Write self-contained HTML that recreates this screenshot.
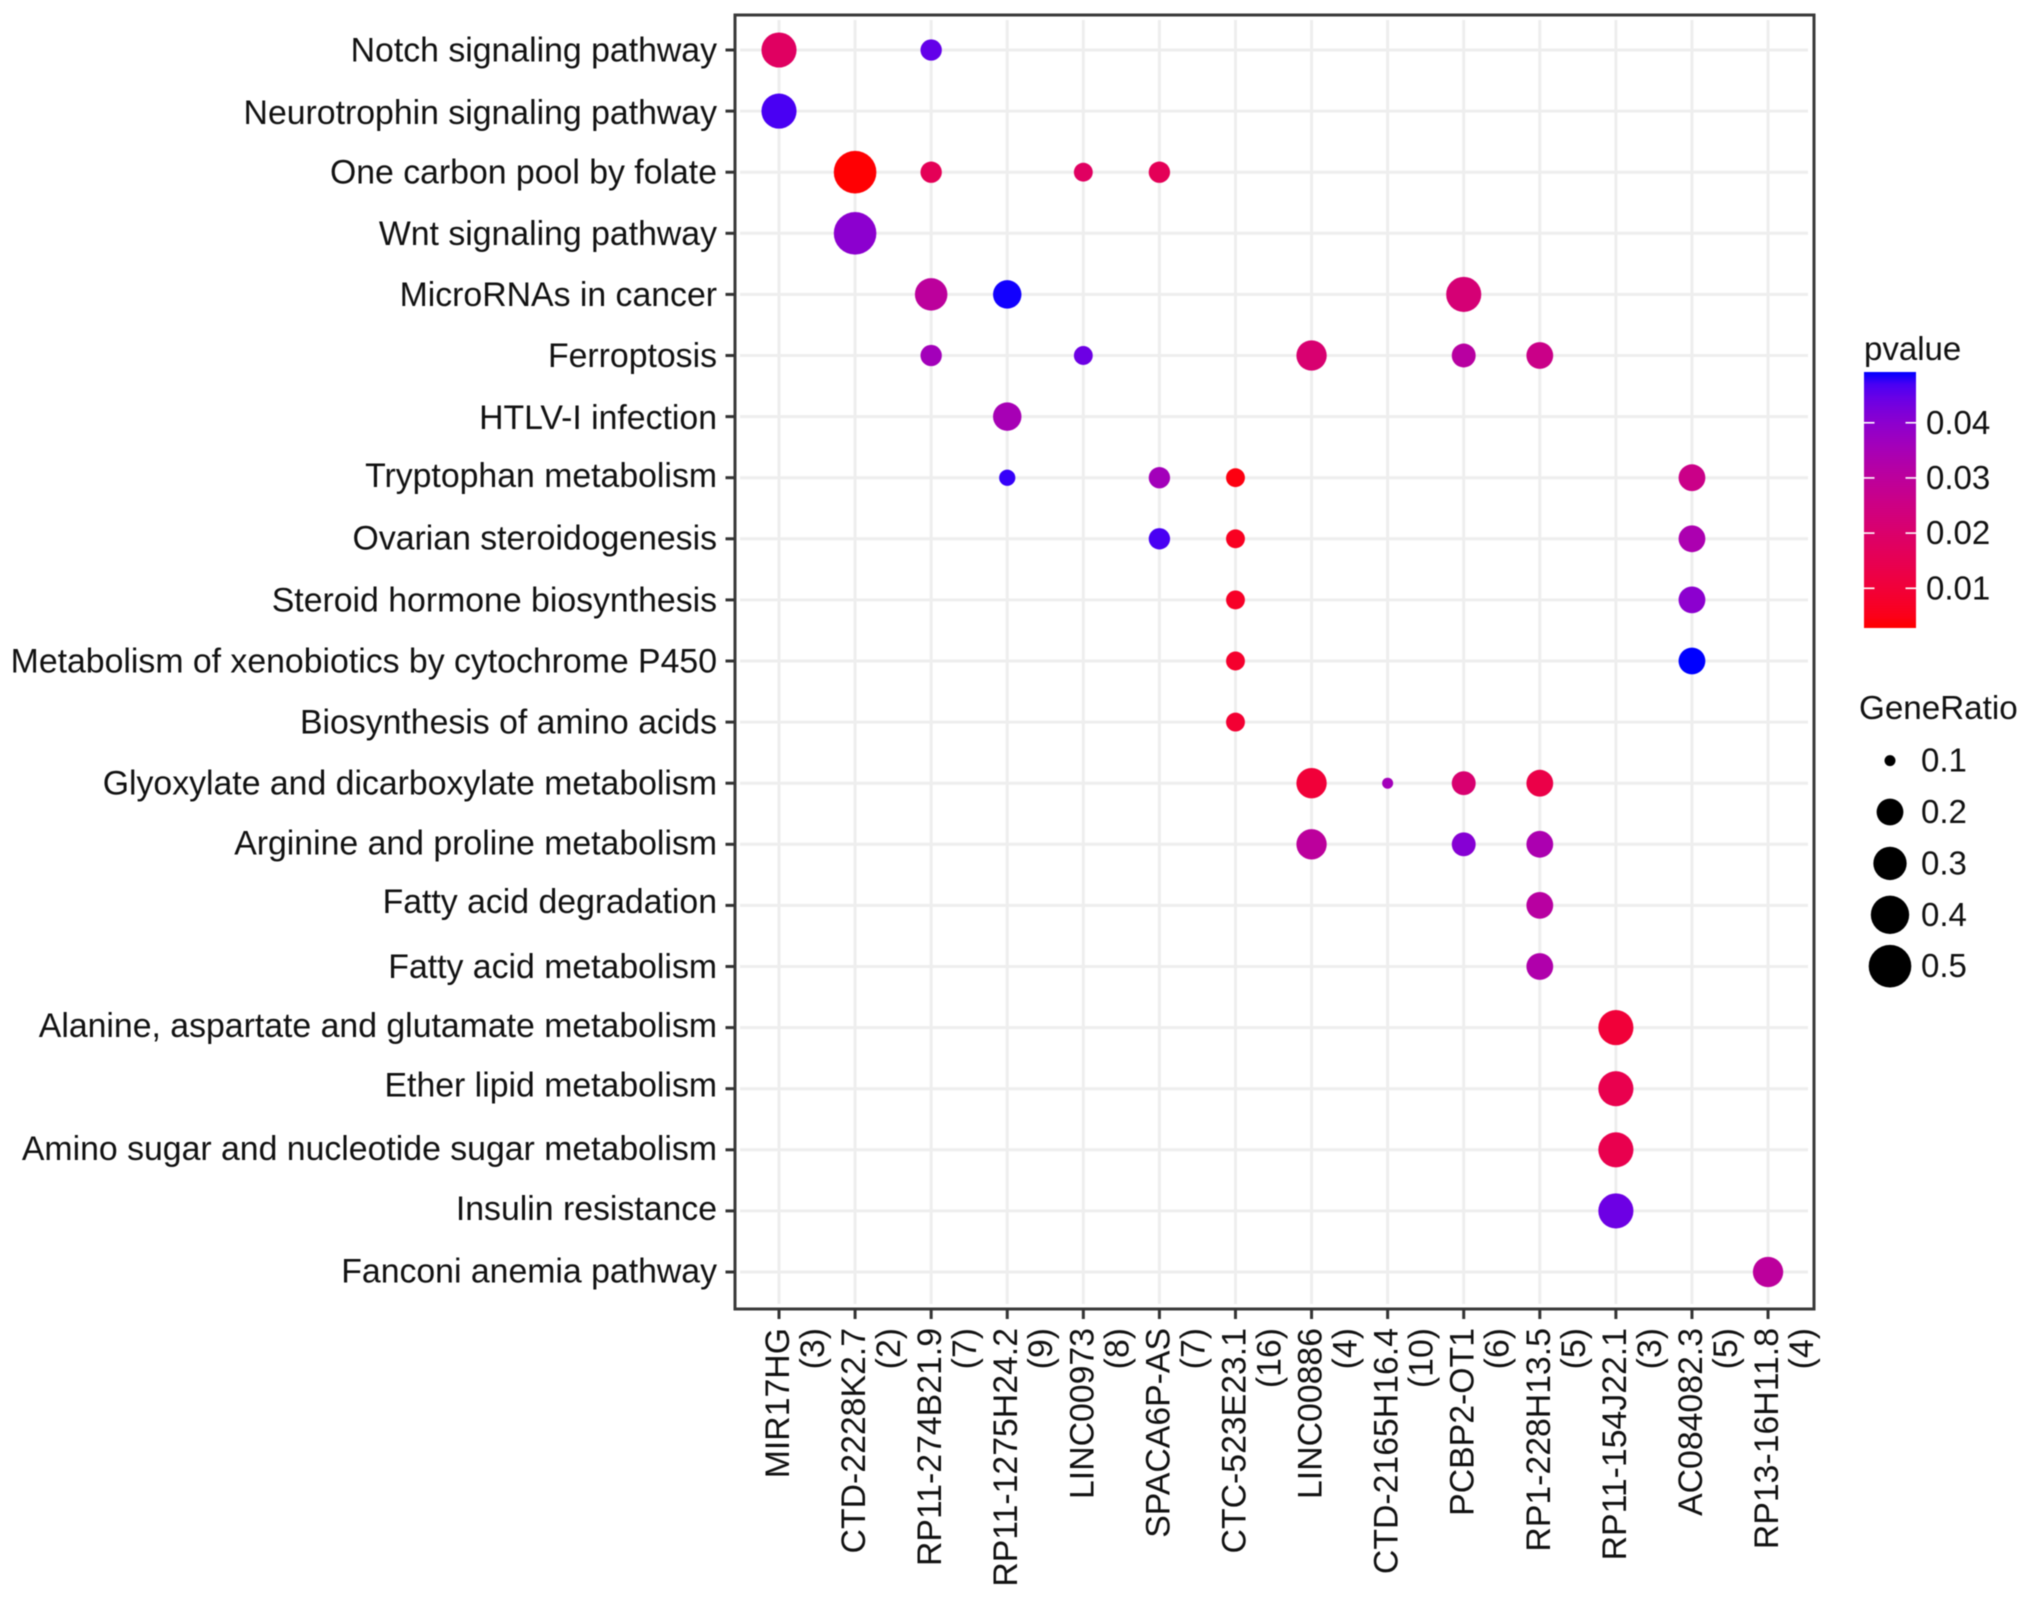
<!DOCTYPE html>
<html lang="en">
<head>
<meta charset="utf-8">
<title>Pathway enrichment dot plot</title>
<style>
  html, body { margin: 0; padding: 0; background: #fff; }
  svg { display: block; filter: blur(0.6px); }
  text { font-family: "Liberation Sans", Arial, sans-serif; fill: #111111; }
</style>
</head>
<body>
<svg id="chart" width="2032" height="1598" viewBox="0 0 2032 1598" xmlns="http://www.w3.org/2000/svg">
  <rect x="0" y="0" width="2032" height="1598" fill="#ffffff"></rect>
  <defs>
    <linearGradient id="pvalue-gradient" x1="0" y1="1" x2="0" y2="0"></linearGradient>
  </defs>
  <g id="grid"></g>
  <g id="dots"></g>
  <rect x="735" y="15" width="1079" height="1294" fill="none" stroke="#3a3a3a" stroke-width="3"></rect>
  <g id="y-axis"></g>
  <g id="x-axis"></g>
  <g id="legend-pvalue">
    <text x="1864" y="360" font-size="33">pvalue</text>
  </g>
  <g id="legend-size">
    <text x="1859" y="719" font-size="33.2">GeneRatio</text>
  </g>
</svg>
<script>
// ---- chart data ----
const lncRNAs = ["MIR17HG","CTD-2228K2.7","RP11-274B21.9","RP11-1275H24.2","LINC00973","SPACA6P-AS","CTC-523E23.1","LINC00886","CTD-2165H16.4","PCBP2-OT1","RP1-228H13.5","RP11-154J22.1","AC084082.3","RP13-16H11.8"];
const lncCounts = ["(3)","(2)","(7)","(9)","(8)","(7)","(16)","(4)","(10)","(6)","(5)","(3)","(5)","(4)"];
const pathways = ["Notch signaling pathway","Neurotrophin signaling pathway","One carbon pool by folate","Wnt signaling pathway","MicroRNAs in cancer","Ferroptosis","HTLV-I infection","Tryptophan metabolism","Ovarian steroidogenesis","Steroid hormone biosynthesis","Metabolism of xenobiotics by cytochrome P450","Biosynthesis of amino acids","Glyoxylate and dicarboxylate metabolism","Arginine and proline metabolism","Fatty acid degradation","Fatty acid metabolism","Alanine, aspartate and glutamate metabolism","Ether lipid metabolism","Amino sugar and nucleotide sugar metabolism","Insulin resistance","Fanconi anemia pathway"];

// one entry per dot: pathway index, lncRNA index, gene ratio, p value
const dotPathway = [0,0,1,2,2,2,2,3,4,4,4,5,5,5,5,5,6,7,7,7,7,8,8,8,9,9,10,10,11,12,12,12,12,13,13,13,14,15,16,17,18,19,20];
const dotLncRNA  = [0,2,0,1,2,4,5,1,2,3,9,2,4,7,9,10,3,3,5,6,12,5,6,12,6,12,6,12,6,7,8,9,10,7,9,10,10,10,11,11,11,11,13];
const dotRatio   = [0.333,0.143,0.333,0.5,0.143,0.125,0.143,0.5,0.286,0.222,0.333,0.143,0.125,0.25,0.167,0.2,0.222,0.111,0.143,0.125,0.2,0.143,0.125,0.2,0.125,0.2,0.125,0.2,0.125,0.25,0.1,0.167,0.2,0.25,0.167,0.2,0.2,0.2,0.333,0.333,0.333,0.333,0.25];
const dotPvalue  = [0.018,0.045,0.047,0.003,0.016,0.018,0.016,0.04,0.03,0.049,0.022,0.036,0.044,0.021,0.031,0.026,0.035,0.048,0.036,0.004,0.026,0.047,0.006,0.034,0.007,0.04,0.008,0.0492,0.009,0.01,0.036,0.021,0.013,0.03,0.041,0.034,0.031,0.033,0.01,0.014,0.014,0.044,0.03];

const pvalueTicks = [0.04,0.03,0.02,0.01];
const pvalueTickLabels = ["0.04","0.03","0.02","0.01"];
const ratioBreaks = [0.1,0.2,0.3,0.4,0.5];
const ratioBreakLabels = ["0.1","0.2","0.3","0.4","0.5"];

// ---- scales ----
const SVG_NS = "http://www.w3.org/2000/svg";
const panel = { left: 735, right: 1814, top: 15, bottom: 1309 };
const xScale = i => 779 + i * 76.08;
const yScale = i => 50 + i * 61.1;
const pDomain = [0.0028, 0.0492];
const sizeScale = v => 5.5 + 15.8 * Math.sqrt(Math.max(0, v - 0.1) / 0.4);
const pBarBottom = 628, pBarTop = 372;
const pScale = p => pBarBottom - (p - pDomain[0]) / (pDomain[1] - pDomain[0]) * (pBarBottom - pBarTop);
// small vertical text nudges for the y tick labels, as set in the figure
const yLabelNudge = i => ({1:1.5,6:1,7:-2,8:-1,13:-1.5,14:-4,16:-2,17:-3.5,18:-1.5,19:-2.5,20:-1})[i] || 0;

// Lab interpolation red -> blue (ggplot2 seq_gradient_pal)
function rgb2lab(r, g, b) {
  const f = c => { c /= 255; return c > 0.04045 ? Math.pow((c + 0.055) / 1.055, 2.4) : c / 12.92; };
  const R = f(r), G = f(g), B = f(b);
  const X = (0.4124564*R + 0.3575761*G + 0.1804375*B) / 0.95047;
  const Y = (0.2126729*R + 0.7151522*G + 0.0721750*B);
  const Z = (0.0193339*R + 0.1191920*G + 0.9503041*B) / 1.08883;
  const h = t => t > 0.008856 ? Math.cbrt(t) : 7.787 * t + 16 / 116;
  return [116 * h(Y) - 16, 500 * (h(X) - h(Y)), 200 * (h(Y) - h(Z))];
}
function lab2rgb(L, a, b) {
  const fy = (L + 16) / 116, fx = a / 500 + fy, fz = fy - b / 200;
  const inv = t => t * t * t > 0.008856 ? t * t * t : (t - 16 / 116) / 7.787;
  const X = inv(fx) * 0.95047, Y = inv(fy), Z = inv(fz) * 1.08883;
  const R =  3.2404542*X - 1.5371385*Y - 0.4985314*Z;
  const G = -0.9692660*X + 1.8760108*Y + 0.0415560*Z;
  const B =  0.0556434*X - 0.2040259*Y + 1.0572252*Z;
  const g = c => {
    c = c <= 0.0031308 ? 12.92 * c : 1.055 * Math.pow(Math.max(c, 0), 1 / 2.4) - 0.055;
    return Math.round(Math.min(1, Math.max(0, c)) * 255);
  };
  return "rgb(" + g(R) + "," + g(G) + "," + g(B) + ")";
}
const labRed = rgb2lab(255, 0, 0), labBlue = rgb2lab(0, 0, 255);
function colorScale(p) {
  const t = Math.min(1, Math.max(0, (p - pDomain[0]) / (pDomain[1] - pDomain[0])));
  return lab2rgb(labRed[0] + (labBlue[0] - labRed[0]) * t,
                 labRed[1] + (labBlue[1] - labRed[1]) * t,
                 labRed[2] + (labBlue[2] - labRed[2]) * t);
}

function make(tag, parent, attrs, content) {
  const el = document.createElementNS(SVG_NS, tag);
  for (const k in attrs) el.setAttribute(k, attrs[k]);
  if (content !== undefined) el.textContent = content;
  parent.appendChild(el);
  return el;
}

const gGrid = document.getElementById("grid");
const gDots = document.getElementById("dots");
const gY = document.getElementById("y-axis");
const gX = document.getElementById("x-axis");
const gP = document.getElementById("legend-pvalue");
const gS = document.getElementById("legend-size");

// ---- grid, ticks, labels ----
pathways.forEach((name, i) => {
  const y = yScale(i);
  const line = make("line", gGrid, { x1: panel.left + 5, x2: panel.right - 6, y1: y, y2: y, stroke: "#eeeeee", "stroke-width": 3 });
  
  
  const tick = make("line", gY, { x1: 725.5, x2: panel.left, y1: y, y2: y, stroke: "#333333", "stroke-width": 3 });
  
  
  const label = make("text", gY, { x: 717, y: y + 11.5 + yLabelNudge(i), "text-anchor": "end", "font-size": 33.8 }, name);
  
  
});

lncRNAs.forEach((name, i) => {
  const x = xScale(i);
  const line = make("line", gGrid, { x1: x, x2: x, y1: panel.top + 5, y2: panel.bottom - 5, stroke: "#eeeeee", "stroke-width": 3 });
  
  
  const tick = make("line", gX, { x1: x, x2: x, y1: panel.bottom, y2: panel.bottom + 10, stroke: "#333333", "stroke-width": 3 });
  
  
  const label = make("text", gX, { transform: "translate(" + (x + 10) + ",1328) rotate(-90)", "text-anchor": "end", "font-size": 33.8 }, name);
  
  
  const count = make("text", gX, { transform: "translate(" + (x + 45) + ",1328) rotate(-90)", "text-anchor": "end", "font-size": 33.8 }, lncCounts[i]);
  
  
});

// ---- dots ----
dotRatio.forEach((ratio, i) => {
  const dot = make("circle", gDots, {
    cx: xScale(dotLncRNA[i]),
    cy: yScale(dotPathway[i]),
    r: sizeScale(ratio),
    fill: colorScale(dotPvalue[i])
  });
  
  
});

// ---- p-value colour bar ----
const grad = document.getElementById("pvalue-gradient");
for (let s = 0; s <= 20; s++) {
  const p = pDomain[0] + (pDomain[1] - pDomain[0]) * s / 20;
  make("stop", grad, { offset: (s * 5) + "%", "stop-color": colorScale(p) });
}
const bar = make("rect", gP, { x: 1864, y: pBarTop, width: 52, height: pBarBottom - pBarTop, fill: "url(#pvalue-gradient)" });


pvalueTicks.forEach((p, i) => {
  const y = pScale(p);
  const left = make("line", gP, { x1: 1864, x2: 1874.5, y1: y, y2: y, stroke: "#ffffff", "stroke-width": 1.6 });
  
  
  const right = make("line", gP, { x1: 1905.5, x2: 1916, y1: y, y2: y, stroke: "#ffffff", "stroke-width": 1.6 });
  
  
  const label = make("text", gP, { x: 1926, y: y + 11, "font-size": 33 }, pvalueTickLabels[i]);
  
  
});

// ---- gene ratio size legend ----
ratioBreaks.forEach((v, i) => {
  const y = 760.6 + i * 51.4;
  const key = make("circle", gS, { cx: 1890, cy: y, r: sizeScale(v), fill: "#000000" });
  
  
  const label = make("text", gS, { x: 1921, y: y + 11, "font-size": 33 }, ratioBreakLabels[i]);
  
  
});
</script>
</body>
</html>
